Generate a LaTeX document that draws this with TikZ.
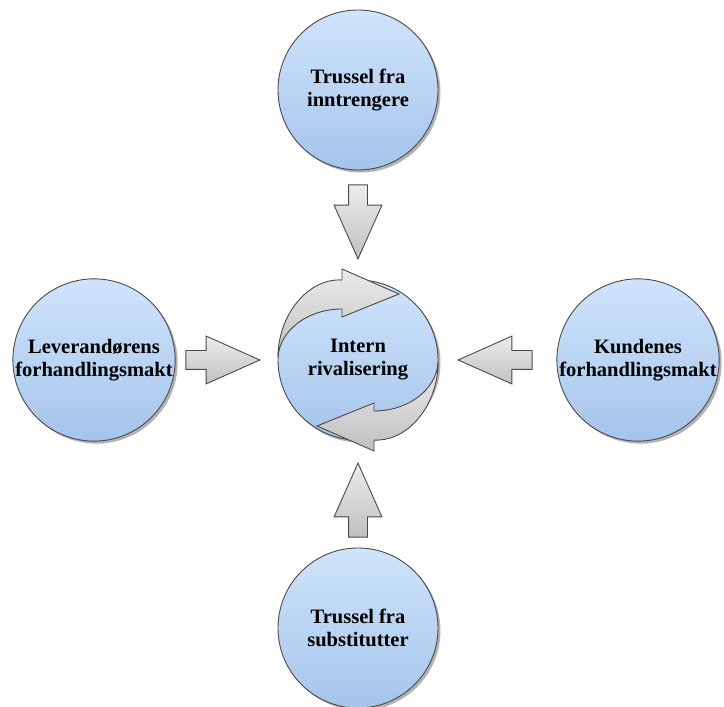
\documentclass[tikz,border=0pt]{standalone}
\usepackage{fontspec}
\setmainfont{Liberation Serif}
\usetikzlibrary{positioning,shapes.arrows,shadows}

\definecolor{circtop}{HTML}{D0E4FB}
\definecolor{circbot}{HTML}{A5C4EB}
\definecolor{edgegray}{HTML}{4A4A4A}
\definecolor{arrlight}{HTML}{ECECEC}
\definecolor{arrdark}{HTML}{C0C0C0}

\tikzset{
  force/.style={circle, draw=edgegray, line width=0.9pt, top color=circtop, bottom color=circbot,
    minimum size=160pt, inner sep=0pt, align=center,
    font=\bfseries\fontsize{20.5}{23}\selectfont,
    drop shadow={shadow xshift=2.5pt, shadow yshift=-2.5pt, opacity=0.3, fill=black}},
  push/.style={single arrow, draw=edgegray, line width=0.9pt, top color=arrlight, bottom color=arrdark,
    minimum height=74pt, inner xsep=0pt, inner ysep=9pt, single arrow head extend=14.5pt,
    single arrow tip angle=48},
  swirl/.style={draw=edgegray, line width=0.9pt, top color=arrlight, bottom color=arrdark}
}

\begin{document}
\begin{tikzpicture}[x=1pt, y=1pt, on grid]
    \useasboundingbox (0,0) rectangle (724,707);
    % Forces
    \node[force] (rival) at (358,347) {Intern\\rivalisering};
    \node[force, above=270pt of rival] (entrants) {Trussel fra\\inntrengere};
    \node[force, below=268pt of rival] (substitutes) {Trussel fra\\substitutter};
    \node[force, left=264pt of rival] (suppliers) {Leverandørens\\forhandlingsmakt};
    \node[force, right=280pt of rival] (buyers) {Kundenes\\forhandlingsmakt};

    % Block arrows towards the centre
    \node[push, rotate=-90, above=100pt of rival, anchor=tip] (fromtop) {};
    \node[push, rotate=90, below=102pt of rival, anchor=tip] (frombottom) {};
    \node[push, left=97pt of rival, anchor=tip] (fromleft) {};
    \node[push, rotate=180, right=99pt of rival, anchor=tip] (fromright) {};

    % Circular arrows on the centre circle
    \foreach \turn in {0,180}
        \draw[swirl, shift={(rival.center)}, rotate=\turn]
            (41,66) -- (-16,91) -- (-16,80)
            .. controls (-50,82) and (-80,45) .. (-80,3)
            .. controls (-78,30) and (-50,51) .. (-16,51)
            -- (-16,43) -- cycle;
\end{tikzpicture}
\end{document}
